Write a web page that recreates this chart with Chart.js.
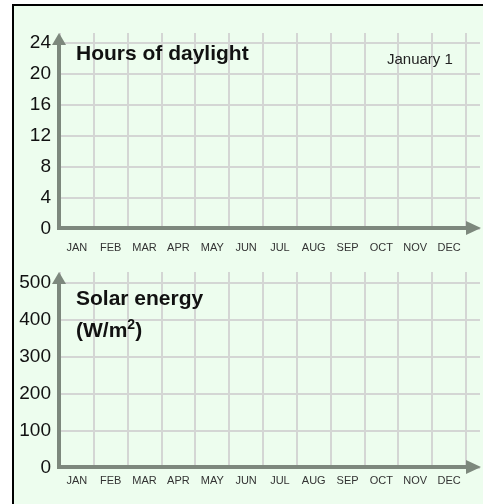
<!DOCTYPE html>
<html>
<head>
<meta charset="utf-8">
<script src="https://cdn.jsdelivr.net/npm/chart.js@4"></script>
<style>
  html,body{margin:0;padding:0;background:#fff;}
  body{width:483px;height:504px;overflow:hidden;position:relative;font-family:"Liberation Sans",Arial,sans-serif;}
  #frame{position:absolute;left:12px;top:4px;width:600px;height:600px;border-left:2px solid #000;border-top:2px solid #000;background:#edfdee;}
  .cv{position:absolute;left:0;}
  .title{position:absolute;font-weight:bold;font-size:21px;color:#111;line-height:24px;white-space:nowrap;}
  .note{position:absolute;font-size:15px;color:#222;line-height:17px;white-space:nowrap;}
  sup{font-size:14px;line-height:0;vertical-align:8px;}
</style>
</head>
<body>
<div id="frame"></div>
<div class="cv" style="top:0;width:483px;height:260px;"><canvas id="c1"></canvas></div>
<div class="cv" style="top:260px;width:483px;height:244px;"><canvas id="c2"></canvas></div>
<div class="title" style="left:76px;top:41px;">Hours of daylight</div>
<div class="note" style="left:387px;top:50px;">January 1</div>
<div class="title" style="left:76px;top:286px;">Solar energy</div>
<div class="title" style="left:76px;top:318px;">(W/m<sup>2</sup>)</div>
<script>
const months = ["JAN","FEB","MAR","APR","MAY","JUN","JUL","AUG","SEP","OCT","NOV","DEC"];
const daylightTicks = [0,4,8,12,16,20,24];
const solarTicks = [0,100,200,300,400,500];
const daylightValues = [];
const solarValues = [];
const daylightMax = 25.3;
const solarMax = 530;

const AXIS = '#7d887d';
const GRID = '#d4d6d4';

const axesPlugin = {
  id: 'axesArrows',
  beforeDatasetsDraw(chart) {
    const {ctx, chartArea: a, scales} = chart;
    const y = scales.y;
    ctx.save();
    ctx.strokeStyle = GRID;
    ctx.lineWidth = 2;
    y.ticks.forEach(t => {
      const py = Math.round(y.getPixelForValue(t.value));
      ctx.beginPath();
      ctx.moveTo(a.right, py);
      ctx.lineTo(a.right + 14, py);
      ctx.stroke();
    });
    ctx.restore();
  },
  afterDraw(chart) {
    const {ctx, chartArea: a} = chart;
    ctx.save();
    ctx.strokeStyle = AXIS;
    ctx.fillStyle = AXIS;
    ctx.lineWidth = 4;
    const ax = a.left - 1, ay = a.bottom - 1;
    ctx.beginPath();
    ctx.moveTo(ax, ay + 2);
    ctx.lineTo(ax, a.top + 10);
    ctx.stroke();
    ctx.beginPath();
    ctx.moveTo(ax - 2, ay);
    ctx.lineTo(a.right + 2, ay);
    ctx.stroke();
    ctx.beginPath();
    ctx.moveTo(ax, a.top);
    ctx.lineTo(ax - 7, a.top + 12);
    ctx.lineTo(ax + 7, a.top + 12);
    ctx.closePath();
    ctx.fill();
    ctx.beginPath();
    ctx.moveTo(a.right + 15, ay);
    ctx.lineTo(a.right, ay - 7);
    ctx.lineTo(a.right, ay + 7);
    ctx.closePath();
    ctx.fill();
    ctx.restore();
  }
};

function makeChart(id, values, ticks, max, padTop, xHeight, labelPad) {
  return new Chart(document.getElementById(id), {
    type: 'line',
    data: { labels: months, datasets: [{ data: values, borderColor: '#c00', pointRadius: 0 }] },
    options: {
      responsive: true,
      maintainAspectRatio: false,
      animation: false,
      devicePixelRatio: 1,
      layout: { padding: { top: padTop, right: 17, left: 0, bottom: 0 } },
      plugins: { legend: { display: false }, tooltip: { enabled: false }, title: { display: false } },
      scales: {
        x: {
          type: 'category',
          offset: true,
          grid: { offset: true, color: GRID, lineWidth: 2, drawTicks: false },
          border: { display: false },
          ticks: { color: '#333', font: { family: '"Liberation Sans", Arial', size: 11 }, padding: labelPad, maxRotation: 0, autoSkip: false },
          afterFit(s) { s.height = xHeight; s.paddingLeft = 0; s.paddingRight = 0; }
        },
        y: {
          min: 0, max: max,
          afterBuildTicks(s) { s.ticks = ticks.map(v => ({ value: v })); },
          grid: { color: GRID, lineWidth: 2, drawTicks: false },
          border: { display: false },
          ticks: { color: '#111', font: { family: '"Liberation Sans", Arial', size: 19 }, padding: 9 },
          afterFit(s) { s.width = 60; s.paddingTop = 0; s.paddingBottom = 0; }
        }
      }
    },
    plugins: [axesPlugin]
  });
}

makeChart('c1', daylightValues, daylightTicks, daylightMax, 33, 31, 12);
makeChart('c2', solarValues, solarTicks, solarMax, 12, 36, 6);
</script>
</body>
</html>
